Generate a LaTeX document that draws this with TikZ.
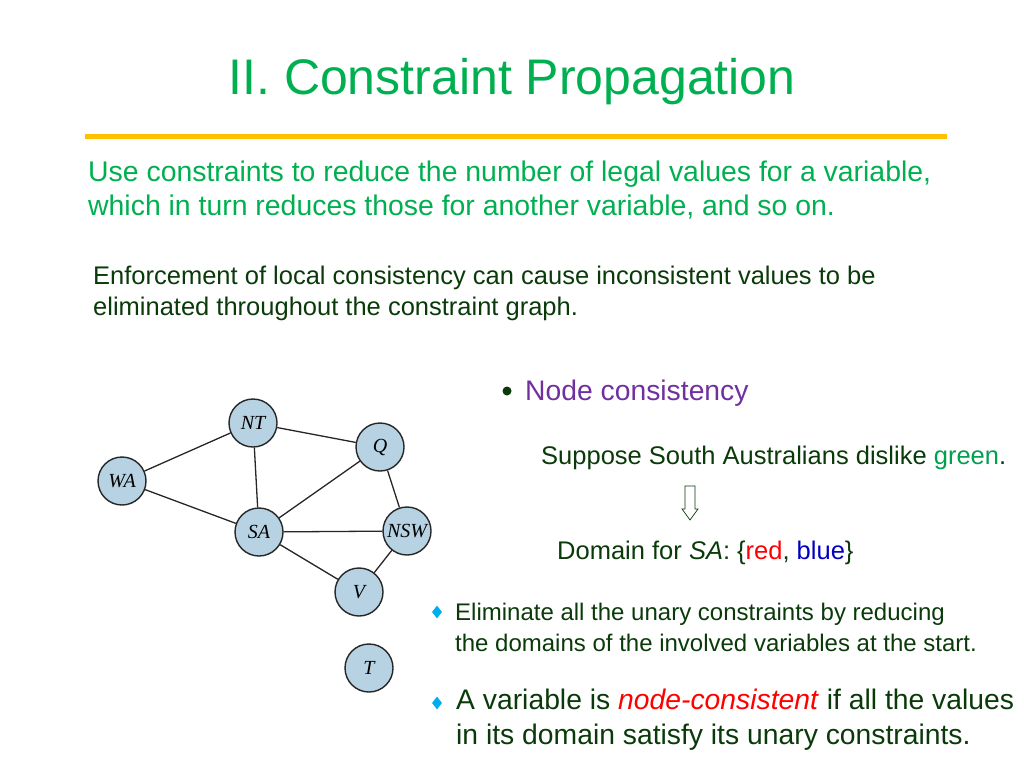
\documentclass[tikz,border=0pt]{standalone}
\usepackage{fontspec}
\usetikzlibrary{shapes.geometric}
\setmainfont{Liberation Sans}
\newfontfamily\serifit{Liberation Serif}
\definecolor{tgreen}{HTML}{00B050}
\definecolor{dgreen}{HTML}{0A3A0A}
\definecolor{ngreen}{HTML}{00A050}
\definecolor{nodefill}{HTML}{B7D3E3}
\definecolor{purp}{HTML}{7030A0}
\definecolor{gold}{HTML}{FFC000}
\begin{document}
\begin{tikzpicture}[x=1pt,y=-1pt,
  st/.style={circle,draw=black!85,line width=1.4pt,fill=nodefill,minimum size=48pt,inner sep=0pt,font=\serifit\itshape\fontsize{20}{20}\selectfont},
  edge/.style={line width=1.3pt,black!85},
  txt/.style={anchor=west,inner sep=0pt,align=left},
  dia/.style={diamond,fill=cyan,inner sep=0pt,minimum width=10pt,minimum height=13pt}]
\useasboundingbox (0,0) rectangle (1024,768);
\node[anchor=center,text=tgreen,font=\fontsize{50}{50}\selectfont] (title) at (512,82) {II. Constraint Propagation};
\draw[gold,line width=5pt] (85,136) -- (947,136);
\node[txt,text=tgreen,font=\fontsize{28.4}{34}\selectfont] (p1) at (88,190) {Use constraints to reduce the number of legal values for a variable,\\which in turn reduces those for another variable, and so on.};
\node[txt,text=dgreen,font=\fontsize{25.5}{31}\selectfont] (p2) at (93,293) {Enforcement of local consistency can cause inconsistent values to be\\eliminated throughout the constraint graph.};
\node[circle,fill=dgreen,inner sep=0pt,minimum size=9pt] (bul) at (507,391) {};
\node[txt,text=purp,font=\fontsize{28.3}{28}\selectfont] (nc) at (525,393) {Node consistency};
\node[txt,text=dgreen,font=\fontsize{25.5}{25}\selectfont] (sup) at (541,458) {Suppose South Australians dislike \textcolor{ngreen}{green}.};
\draw[dgreen,line width=0.7pt] (685,486) -- (695,486) -- (695,509) -- (698,509) -- (690,520) -- (682,509) -- (685,509) -- cycle;
\node[txt,text=dgreen,font=\fontsize{25.5}{25}\selectfont] (dom) at (557,553) {Domain for \textit{SA}: \{\textcolor{red}{red}, \textcolor{blue!75!black}{blue}\}};
\node[dia] (d1) at (437,612) {};
\node[txt,text=dgreen,font=\fontsize{24}{31}\selectfont] (e1) at (455,627) {Eliminate all the unary constraints by reducing\\ the domains of the involved variables at the start.};
\node[dia] (d2) at (437,703) {};
\node[txt,text=dgreen,font=\fontsize{28.3}{35}\selectfont] (e2) at (456,720) {A variable is \textcolor{red}{\textit{node-consistent}} if all the values\\ in its domain satisfy its unary constraints.};
\node[st] (NT) at (253,423) {NT};
\node[st] (Q) at (380,447) {Q};
\node[st] (WA) at (122,481) {WA};
\node[st] (SA) at (259,532) {SA};
\node[st] (NSW) at (407,531) {NSW};
\node[st] (V) at (359,592) {V};
\node[st] (T) at (369,668) {T};
\draw[edge] (WA)--(NT) (WA)--(SA) (NT)--(SA) (NT)--(Q) (SA)--(Q) (Q)--(NSW) (SA)--(NSW) (SA)--(V) (NSW)--(V);
\end{tikzpicture}
\end{document}
